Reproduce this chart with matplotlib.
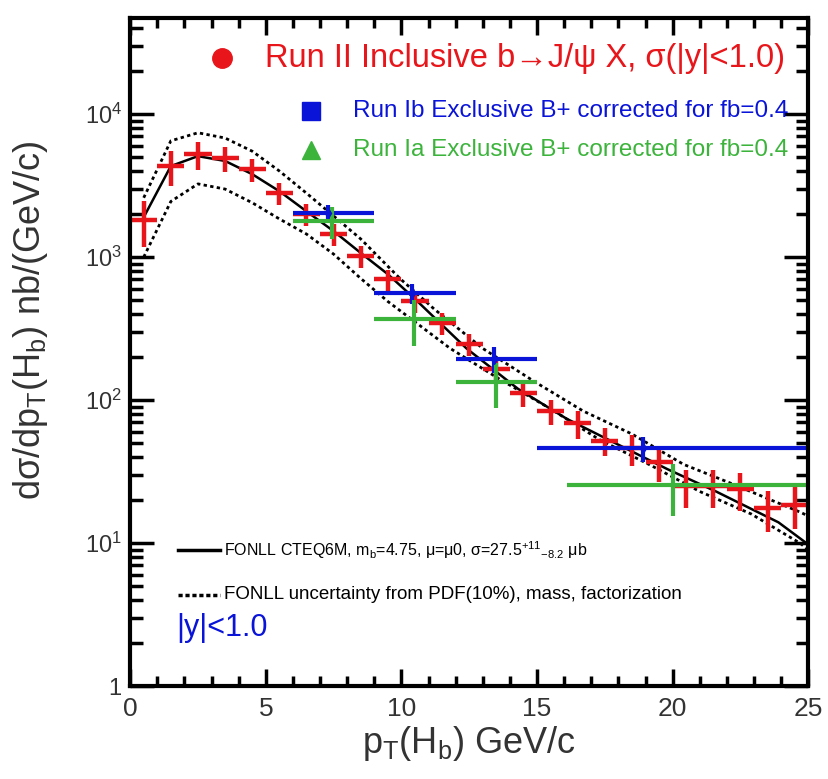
import matplotlib
matplotlib.use("Agg")
import matplotlib.pyplot as plt
from matplotlib import font_manager
from matplotlib.ticker import FixedLocator, NullFormatter, LogLocator

names = {f.name for f in font_manager.fontManager.ttflist}
fam = "Liberation Sans Narrow" if "Liberation Sans Narrow" in names else "Liberation Sans"
plt.rcParams["font.family"] = [fam, "DejaVu Sans"]
plt.rcParams["mathtext.fontset"] = "custom"
plt.rcParams["mathtext.rm"] = fam
plt.rcParams["mathtext.it"] = fam
plt.rcParams["mathtext.sf"] = fam

# Run II inclusive b -> J/psi X
run2_pt = [0.5, 1.5, 2.5, 3.5, 4.5, 5.5, 6.5, 7.5, 8.5, 9.5, 10.5, 11.5, 12.5,
           13.5, 14.5, 15.5, 16.5, 17.5, 18.5, 19.5, 20.5, 21.5, 22.5, 23.5, 24.5]
run2_val = [1815, 4330, 5250, 4900, 4100, 2800, 2000, 1450, 1015, 700, 490, 345, 247,
            164, 112, 84, 69, 52, 46, 37, 25, 25, 24, 17.6, 18.6]
run2_rel = [0.35, 0.28, 0.22, 0.2, 0.18, 0.17, 0.17, 0.17, 0.17, 0.17, 0.17, 0.17, 0.18,
            0.2, 0.2, 0.2, 0.22, 0.22, 0.25, 0.28, 0.3, 0.3, 0.3, 0.32, 0.32]

# Run Ib exclusive B+
ib_pt = [7.3, 10.4, 13.4, 18.9]
ib_lo = [6, 9, 12, 15]
ib_hi = [9, 12, 15, 25]
ib_val = [2040, 560, 195, 46]
ib_rel = [0.14, 0.16, 0.2, 0.2]

# Run Ia exclusive B+
ia_pt = [7.45, 10.45, 13.5, 20.0]
ia_lo = [6, 9, 12, 16.1]
ia_hi = [9, 12, 15, 25]
ia_val = [1780, 370, 135, 25.7]
ia_rel = [0.25, 0.35, 0.35, 0.4]

# FONLL central and band
fonll_pt = [0.5, 1.5, 2.5, 3.5, 4.5, 5.5, 6.5, 7.5, 8.5, 9.5, 10.5, 12.4, 14.3,
            16.1, 17.8, 19.8, 21.6, 23.9, 25.0]
fonll_val = [1900, 4330, 5080, 4700, 3800, 2890, 2090, 1520, 1070, 760, 510, 230, 120,
             74, 51, 33, 23, 14, 9.8]
up_pt = [0.5, 1.5, 2.5, 3.5, 4.5, 5.5, 6.5, 7.5, 8.5, 9.96, 11.2, 13.0, 14.9,
         16.7, 18.5, 20.4, 22.2, 24.7, 25.0]
up_val = [2600, 6500, 7400, 6800, 5500, 4000, 2800, 1940, 1340, 705, 435, 230, 135,
          84, 58, 35.6, 26, 16.5, 15.5]
lo_pt = [0.5, 1.5, 2.5, 3.5, 4.5, 5.5, 6.5, 7.5, 8.5, 9.5, 11.8, 13.6, 15.5,
         17.3, 19.2, 21.0, 22.9, 24.7, 25.0]
lo_val = [1000, 2450, 3250, 2990, 2400, 1850, 1450, 1050, 710, 490, 230, 141, 87,
          53, 35, 23, 16, 10, 9.0]

fig = plt.figure(figsize=(8.29, 7.79), dpi=100)
ax = fig.add_axes([0.157, 0.119, 0.818, 0.858])

ax.plot(up_pt, up_val, color="black", lw=2, ls=(0, (1.2, 1.2)))
ax.plot(lo_pt, lo_val, color="black", lw=2, ls=(0, (1.2, 1.2)))
ax.plot(fonll_pt, fonll_val, color="black", lw=1.8)

red = "#e8161b"
blue = "#0a14d8"
green = "#3cb43c"

yerr = [[v * r for v, r in zip(run2_val, run2_rel)], [v * r for v, r in zip(run2_val, run2_rel)]]
ax.errorbar(run2_pt, run2_val, xerr=0.5, yerr=yerr, fmt="none", ecolor=red, elinewidth=3.2, capsize=0)

ib_xerr = [[p - l for p, l in zip(ib_pt, ib_lo)], [h - p for p, h in zip(ib_pt, ib_hi)]]
ib_yerr = [[v * r for v, r in zip(ib_val, ib_rel)], [v * r for v, r in zip(ib_val, ib_rel)]]
ax.errorbar(ib_pt, ib_val, xerr=ib_xerr, yerr=ib_yerr, fmt="d", ms=5, color=blue,
            ecolor=blue, elinewidth=3, capsize=0)

ia_xerr = [[p - l for p, l in zip(ia_pt, ia_lo)], [h - p for p, h in zip(ia_pt, ia_hi)]]
ia_yerr = [[v * r for v, r in zip(ia_val, ia_rel)], [v * r for v, r in zip(ia_val, ia_rel)]]
ax.errorbar(ia_pt, ia_val, xerr=ia_xerr, yerr=ia_yerr, fmt="none", ecolor=green,
            elinewidth=3, capsize=0)

ax.set_yscale("log")
ax.set_xlim(0, 25)
ax.set_ylim(1, 4.7e4)

ax.set_xticks([0, 5, 10, 15, 20, 25])
ax.xaxis.set_minor_locator(FixedLocator(range(0, 26)))
ax.yaxis.set_major_locator(FixedLocator([1, 10, 100, 1000, 10000]))
ax.yaxis.set_minor_locator(LogLocator(base=10, subs=range(2, 10), numticks=20))
ax.yaxis.set_minor_formatter(NullFormatter())
ax.set_yticklabels(["1", r"$10^{1}$", r"$10^{2}$", r"$10^{3}$", r"$10^{4}$"])

ax.tick_params(which="both", direction="in", top=True, right=True, width=2.5, colors="black")
ax.tick_params(axis="x", which="major", length=12, labelsize=19, pad=8)
ax.tick_params(axis="x", which="minor", length=7)
ax.tick_params(axis="y", which="major", length=17, labelsize=17, pad=6)
ax.tick_params(axis="y", which="minor", length=9)
for tl in ax.get_xticklabels() + ax.get_yticklabels():
    tl.set_color("#333333")
for s in ax.spines.values():
    s.set_linewidth(3)

ax.set_xlabel(r"p$_\mathrm{T}$(H$_\mathrm{b}$) GeV/c", fontsize=26, color="#333333", labelpad=2)
ax.set_ylabel(r"d$\sigma$/dp$_\mathrm{T}$(H$_\mathrm{b}$) nb/(GeV/c)", fontsize=26, color="#333333")
ax.yaxis.set_label_coords(-0.118, 0.548)

# legend-like annotations
ax.plot([3.4], [2.45e4], "o", color=red, ms=14)
ax.text(24.15, 2.45e4, "Run II Inclusive b\u2192J/\u03c8 X, \u03c3(|y|<1.0)",
        color=red, fontsize=23.5, ha="right", va="center")
ax.plot([6.66], [1.05e4], "s", color=blue, ms=13)
ax.text(24.25, 1.05e4, "Run Ib Exclusive B+ corrected for fb=0.4", color=blue,
        fontsize=17.5, ha="right", va="center")
ax.plot([6.66], [5.6e3], "^", color=green, ms=13)
ax.text(24.25, 5.6e3, "Run Ia Exclusive B+ corrected for fb=0.4", color=green,
        fontsize=17.5, ha="right", va="center")

ax.plot([1.75, 3.3], [8.9, 8.9], color="black", lw=2.5)
ax.text(3.45, 8.9, r"FONLL CTEQ6M, m$_\mathrm{b}$=4.75, $\mu$=$\mu$0, $\sigma$=27.5$^{+11}$$_{-8.2}$ $\mu$b",
        fontsize=11.5, ha="left", va="center")
ax.plot([1.75, 3.3], [4.35, 4.35], color="black", lw=2.5, ls=(0, (1.2, 0.8)))
ax.text(3.45, 4.35, "FONLL uncertainty from PDF(10%), mass, factorization",
        fontsize=13.5, ha="left", va="center")
ax.text(1.7, 2.55, "|y|<1.0", color=blue, fontsize=22, ha="left", va="center")

fig.savefig("out.png", dpi=100)
